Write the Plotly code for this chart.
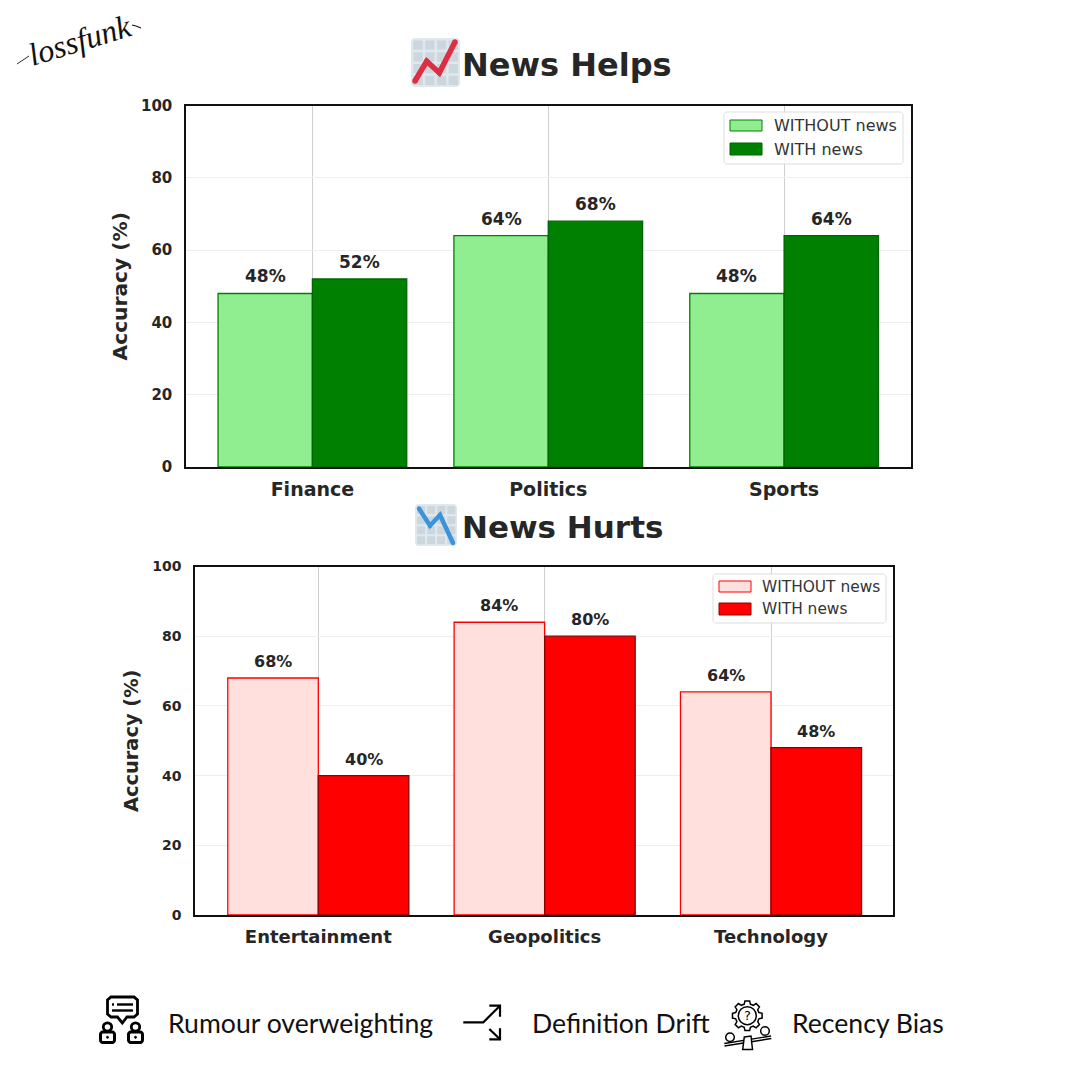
import math
import plotly.graph_objects as go

# ---- data ----
help_categories = ["Finance", "Politics", "Sports"]
help_without = [48, 64, 48]
help_with = [52, 68, 64]
hurt_categories = ["Entertainment", "Geopolitics", "Technology"]
hurt_without = [68, 84, 64]
hurt_with = [40, 80, 48]
y_ticks = [0, 20, 40, 60, 80, 100]
series_names = ["WITHOUT news", "WITH news"]
footer_labels = ["Rumour overweighting", "Definition Drift", "Recency Bias"]

W = H = 1080
FONT = "DejaVu Sans"
DARK = "#262626"


def px(x):
    return x / W


def py(y):
    return 1 - y / H


def path_of(points, close=False):
    d = "M" + " L".join(f"{px(x):.5f},{py(y):.5f}" for x, y in points)
    return d + (" Z" if close else "")


shapes = []


def poly(points, color="#000", width=2.5, fill=None, close=False):
    shapes.append(dict(type="path", xref="paper", yref="paper", path=path_of(points, close),
                       line=dict(color=color, width=width), fillcolor=fill or "rgba(0,0,0,0)", layer="above"))


def rrect(x0, y0, x1, y1, r, color="#000", width=2.5, fill=None):
    pts = []
    for cx, cy, a0 in [(x1 - r, y0 + r, -90), (x1 - r, y1 - r, 0), (x0 + r, y1 - r, 90), (x0 + r, y0 + r, 180)]:
        for k in range(7):
            a = math.radians(a0 + 15 * k)
            pts.append((cx + r * math.cos(a), cy + r * math.sin(a)))
    poly(pts, color, width, fill, True)


def circle(cx, cy, r, color="#000", width=2.5, fill=None):
    shapes.append(dict(type="circle", xref="paper", yref="paper", x0=px(cx - r), x1=px(cx + r),
                       y0=py(cy + r), y1=py(cy - r), line=dict(color=color, width=width),
                       fillcolor=fill or "rgba(0,0,0,0)", layer="above"))


def chart_icon(x0, y0, size, line_pts, color, lw):
    s = size / 50
    rrect(x0, y0, x0 + size, y0 + size, 4 * s, color="#E1E8ED", width=0, fill="#E1E8ED")
    for i in range(4):
        for j in range(4):
            cx, cy = x0 + (2.5 + 12 * i) * s, y0 + (2.5 + 12 * j) * s
            rrect(cx, cy, cx + 9.5 * s, cy + 9.5 * s, 0.5, color="#CCD6DD", width=0, fill="#CCD6DD")
    poly(line_pts, color, lw)
    for p in line_pts:
        circle(p[0], p[1], lw / 2, color=color, width=0, fill=color)


chart_icon(411, 38, 49, [(415, 81), (426.7, 61.3), (439.3, 72.7), (455, 42)], "#DD2E44", 5.5)
chart_icon(415, 504, 42, [(419, 508.5), (430, 525.7), (440, 515), (453, 543)], "#3B94D9", 4.5)

# rumour icon
poly([(111, 997), (134, 997), (137.5, 1000), (137.5, 1014), (134, 1017), (127, 1017), (122.3, 1023),
      (117.5, 1017), (111, 1017), (107.5, 1014), (107.5, 1000)], width=2.8, close=True)
poly([(112, 1004.5), (114, 1004.5)], width=2.4)
poly([(117, 1004.5), (133, 1004.5)], width=2.4)
poly([(112, 1010.5), (133, 1010.5)], width=2.4)
for cx in (107.5, 135.5):
    circle(cx, 1027, 4.2, width=2.8)
    rrect(cx - 7, 1032, cx + 7, 1042.5, 2.5, width=3)
    circle(cx, 1037.3, 1, width=1, fill="#000")

# drift icon
poly([(463.3, 1022.3), (483.3, 1022.3), (500, 1005.7)], width=2.2)
poly([(489.3, 1005.7), (500, 1005.7), (500, 1016.7)], width=2.2)
poly([(489.3, 1029), (500, 1039.3)], width=2.2)
poly([(489.3, 1039.3), (500, 1039.3), (500, 1028.3)], width=2.2)

# bias icon
gear = []
for t in range(8):
    base = t * 45
    for off, rad in [(-15, 12), (-9, 15), (9, 15), (15, 12)]:
        a = math.radians(base + off)
        gear.append((747.3 + rad * math.cos(a), 1015.7 + rad * math.sin(a)))
poly(gear, width=1.5, close=True)
circle(747.3, 1015.7, 9, width=1.5)
poly([(724.3, 1043.5), (771, 1036)], width=1.4)
poly([(724.5, 1046), (771.3, 1038.5)], width=1.4)
circle(730, 1037.3, 4.3, width=1.5)
circle(765, 1031, 4.3, width=1.5)
poly([(744.3, 1037), (751, 1036), (752.5, 1049.5), (742.7, 1049.5)], width=1.5, fill="#fff", close=True)

# signature flourishes joined to the text
poly([(17, 64), (23, 60), (29, 56)], width=0.9, color="#111")
poly([(132, 25), (136, 26), (141, 28)], width=1.1, color="#111")

fig = go.Figure()
fig.add_trace(go.Bar(x=help_categories, y=help_without, name=series_names[0], xaxis="x", yaxis="y",
                     marker=dict(color="#90EE90", line=dict(color="#008000", width=1.3))))
fig.add_trace(go.Bar(x=help_categories, y=help_with, name=series_names[1], xaxis="x", yaxis="y",
                     marker=dict(color="#008000", line=dict(color="#006400", width=1.3))))
fig.add_trace(go.Bar(x=hurt_categories, y=hurt_without, name=series_names[0], xaxis="x2", yaxis="y2",
                     marker=dict(color="#FFE0DD", line=dict(color="#FF0000", width=1.3))))
fig.add_trace(go.Bar(x=hurt_categories, y=hurt_with, name=series_names[1], xaxis="x2", yaxis="y2",
                     marker=dict(color="#FF0000", line=dict(color="#8B0000", width=1.3))))

annotations = []


def value_labels(cats, without, with_, xref, yref, size):
    for i, _ in enumerate(cats):
        for off, val in ((-0.2, without[i]), (0.2, with_[i])):
            annotations.append(dict(x=i + off, y=val, xref=xref, yref=yref, text=f"{val}%", showarrow=False,
                                    yanchor="bottom", yshift=5,
                                    font=dict(family=FONT, size=size, color=DARK, weight="bold")))


value_labels(help_categories, help_without, help_with, "x", "y", 17)
value_labels(hurt_categories, hurt_without, hurt_with, "x2", "y2", 16)


def label(text, x, y, size, family=FONT, weight="normal", color=DARK, anchor="left", **kw):
    annotations.append(dict(x=px(x), y=py(y), xref="paper", yref="paper", text=text, showarrow=False,
                            xanchor=anchor, yanchor="middle",
                            font=dict(family=family, size=size, color=color, weight=weight), **kw))


label("News Helps", 460, 65, 32, weight="bold")
label("News Hurts", 460, 527, 31, weight="bold")
label(footer_labels[0], 166, 1022.5, 26.6, family="Lato", color="#111")
label(footer_labels[1], 530, 1022.5, 26.6, family="Lato", color="#111")
label(footer_labels[2], 790, 1022.5, 26.6, family="Lato", color="#111")
label("?", 747.3, 1015.5, 13, color="#000", anchor="center")
annotations.append(dict(x=px(80), y=py(40), xref="paper", yref="paper", text="lossfunk", showarrow=False,
                        xanchor="center", yanchor="middle", textangle=-17,
                        font=dict(family="Liberation Serif", size=32, color="#111", style="italic")))


def manual_legend(box, swatches, text_x, text_ys, size, colors):
    """Legend key with the reference's wide swatches, which Plotly's own bar legend cannot draw."""
    rrect(*box, 3, color="#DDDDDD", width=1, fill="rgba(255,255,255,0.85)")
    for (x0, y0, x1, y1), ty, name, (fc, lc) in zip(swatches, text_ys, series_names, colors):
        shapes.append(dict(type="rect", xref="paper", yref="paper", x0=px(x0), x1=px(x1), y0=py(y1), y1=py(y0),
                           fillcolor=fc, line=dict(color=lc, width=1), layer="above"))
        label(name, text_x, ty, size, color="#333")


manual_legend((724, 112, 903, 164), [(730, 120, 762, 131), (730, 143, 762, 155)], 772, (125.5, 149), 16,
              [("#90EE90", "#008000"), ("#008000", "#006400")])
manual_legend((713, 574, 886, 623), [(719, 581, 751, 592), (719, 603, 751, 615)], 760, (586.5, 608.5), 15.4,
              [("#FFE0DD", "#FF0000"), ("#FF0000", "#8B0000")])


def x_axis(anchor, domain, rng, size):
    return dict(domain=[px(domain[0]), px(domain[1])], range=rng, anchor=anchor, type="category", automargin=False,
                showline=True, mirror=True, linecolor="#111", linewidth=2.4, showgrid=True, gridcolor="#CFCFCF",
                gridwidth=1, ticks="", ticklabelstandoff=4,
                tickfont=dict(family=FONT, size=size, color=DARK, weight="bold"))


def y_axis(anchor, top, bottom, tsize, title_size, standoff):
    return dict(domain=[py(bottom), py(top)], range=[0, 100], anchor=anchor, tickvals=y_ticks, showline=True,
                automargin=False, mirror=True, linecolor="#111", linewidth=2.4, showgrid=True, gridcolor="#EEEEEE",
                gridwidth=1, zeroline=False, ticks="", ticklabelstandoff=8,
                tickfont=dict(family=FONT, size=tsize, color=DARK, weight="bold"),
                title=dict(text="Accuracy (%)", standoff=standoff,
                           font=dict(family=FONT, size=title_size, color=DARK, weight="bold")))


fig.update_layout(
    width=W, height=H, margin=dict(l=0, r=0, t=0, b=0, autoexpand=False), paper_bgcolor="#fff", plot_bgcolor="#fff",
    barmode="group", bargap=0.2, bargroupgap=0, showlegend=False,
    xaxis=x_axis("y", (185.5, 911), [-0.538, 2.538], 19),
    yaxis=y_axis("x", 105.5, 467, 15, 20.2, 8),
    xaxis2=x_axis("y2", (194.5, 893), [-0.547, 2.539], 18),
    yaxis2=y_axis("x2", 566.5, 915, 14, 19.4, 8),
    shapes=shapes, annotations=annotations,
)
fig.write_html("out.html", config=dict(displayModeBar=False), post_script="document.body.style.margin='0';")
